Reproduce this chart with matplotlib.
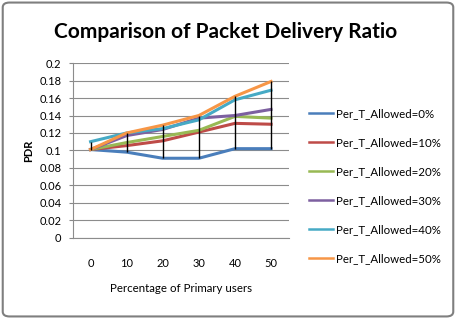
import matplotlib
matplotlib.use("Agg")
import matplotlib.pyplot as plt
from matplotlib.patches import FancyBboxPatch
import numpy as np

# datos
categorias = ["0", "10", "20", "30", "40", "50"]
pdr_0 = [0.101, 0.098, 0.091, 0.091, 0.102, 0.102]
pdr_10 = [0.101, 0.1055, 0.111, 0.121, 0.131, 0.130]
pdr_20 = [0.101, 0.109, 0.116, 0.123, 0.139, 0.137]
pdr_30 = [0.101, 0.117, 0.124, 0.137, 0.140, 0.147]
pdr_40 = [0.110, 0.120, 0.125, 0.135, 0.158, 0.169]
pdr_50 = [0.101, 0.120, 0.129, 0.140, 0.162, 0.179]
etiquetas = ["Per_T_Allowed=0%", "Per_T_Allowed=10%", "Per_T_Allowed=20%",
             "Per_T_Allowed=30%", "Per_T_Allowed=40%", "Per_T_Allowed=50%"]
colores = ["#4a7ebb", "#be4b48", "#98b954", "#7d60a0", "#46aac5", "#f79646"]

plt.rcParams['font.family'] = ['Lato', 'DejaVu Sans']

fig = plt.figure(figsize=(4.56, 3.19), dpi=100)
ax = fig.add_axes([0.159, 0.255, 0.475, 0.547])

x = np.arange(len(categorias))
series = [pdr_0, pdr_10, pdr_20, pdr_30, pdr_40, pdr_50]
datos = np.array(series)

# lineas max-min (high-low)
ax.vlines(x, datos.min(axis=0), datos.max(axis=0), color='black', linewidth=1, zorder=3)

for s, c, l in zip(series, colores, etiquetas):
    ax.plot(x, s, color=c, linewidth=2.2, label=l, zorder=2)

ax.set_xlim(-0.5, len(categorias) - 0.5)
ax.set_ylim(0, 0.2)
ax.set_yticks(np.arange(0, 0.201, 0.02))
ax.set_yticklabels(["0", "0.02", "0.04", "0.06", "0.08", "0.1", "0.12", "0.14",
                    "0.16", "0.18", "0.2"], fontsize=8)
ax.set_xticks(x)
ax.set_xticklabels(categorias, fontsize=8)
ax.tick_params(axis='x', length=0, pad=15)
ax.tick_params(axis='y', length=3, color='#888888', pad=5)
ax.grid(axis='y', color='#8c8c8c', linewidth=0.8)
ax.set_axisbelow(True)
for lado in ['top', 'right']:
    ax.spines[lado].set_visible(False)
for lado in ['left', 'bottom']:
    ax.spines[lado].set_color('#8c8c8c')

ax.set_ylabel("PDR", fontsize=8, fontweight='bold', labelpad=4)
ax.set_xlabel("Percentage of Primary users", fontsize=8.3, labelpad=10)

fig.text(0.495, 0.9, "Comparison of Packet Delivery Ratio", ha='center', va='center',
         fontsize=15, fontweight='bold')

leg = fig.legend(loc='upper left', bbox_to_anchor=(0.678, 0.66), frameon=False,
                 borderpad=0, borderaxespad=0,
                 fontsize=8.3, handlelength=2.1, labelspacing=1.55, handletextpad=0.2)
for h in leg.get_lines():
    h.set_linewidth(1.8)

# borde del grafico
borde = FancyBboxPatch((0.006, 0.008), 0.988, 0.984, boxstyle="round,pad=0,rounding_size=0.015",
                       transform=fig.transFigure, fill=False, edgecolor='#7f7f7f', linewidth=1.5)
fig.patches.append(borde)

fig.savefig("out.png", dpi=100)
